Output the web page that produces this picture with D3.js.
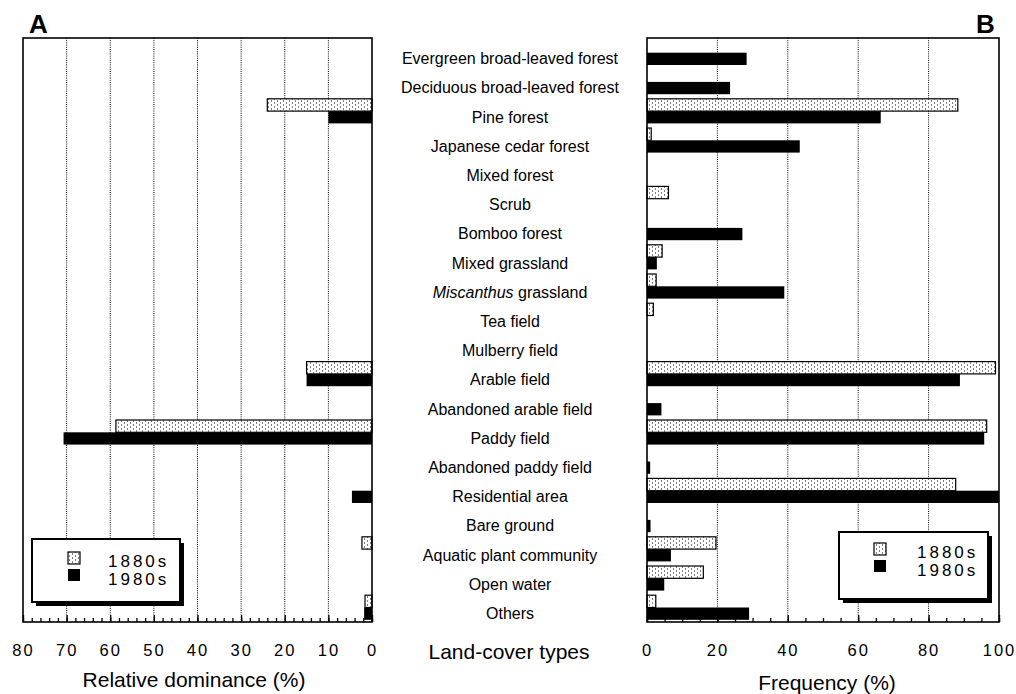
<!DOCTYPE html>
<html lang="en">
<head>
    <meta charset="UTF-8">
    <title>Land-cover types</title>
    <script src="https://d3js.org/d3.v7.min.js"></script>
    <style>
        body { margin: 0; background: white; }
        .frame { fill: none; stroke: black; stroke-width: 1.6; }
        .grid { stroke: black; stroke-width: 1; stroke-dasharray: 1,1.2; }
        .bar80 { fill: url(#stipple); stroke: black; stroke-width: 1.2; }
        .bar90 { fill: black; }
        .cat { font-family: "Liberation Sans", Arial, sans-serif; font-size: 16px; text-anchor: middle; }
        .title { font-family: "Liberation Sans", Arial, sans-serif; font-size: 21px; text-anchor: middle; }
        .panel { font-family: "Liberation Sans", Arial, sans-serif; font-size: 26px; font-weight: bold; }
        .leg { font-family: "Liberation Sans", Arial, sans-serif; font-size: 17px; letter-spacing: 3px; }
    </style>
</head>
<body>
<script>
    const width  = 1016;
    const height = 694;

    const categories = [
        "Evergreen broad-leaved forest", "Deciduous broad-leaved forest", "Pine forest",
        "Japanese cedar forest", "Mixed forest", "Scrub", "Bomboo forest", "Mixed grassland",
        "Miscanthus grassland", "Tea field", "Mulberry field", "Arable field",
        "Abandoned arable field", "Paddy field", "Abandoned paddy field", "Residential area",
        "Bare ground", "Aquatic plant community", "Open water", "Others"
    ];
    const series = ["1880s", "1980s"];

    // A: relative dominance (%)
    const dominance1880 = [0, 0, 24, 0, 0, 0, 0, 0, 0, 0, 0, 15, 0, 58.7, 0, 0, 0, 2.3, 0, 1.6];
    const dominance1980 = [0, 0, 10, 0, 0, 0, 0, 0, 0, 0, 0, 15, 0, 70.7, 0, 4.6, 0, 0, 0, 1.8];

    // B: frequency (%)
    const freq1880 = [0, 0, 88.3, 1.2, 0, 6.1, 0, 4.3, 2.6, 1.8, 0, 99, 0, 96.5, 0, 87.7, 0, 19.6, 16, 2.5];
    const freq1980 = [28.3, 23.6, 66.4, 43.4, 0, 0, 27.1, 2.8, 39, 0, 0, 88.9, 4.1, 95.8, 0.9, 100, 1, 6.8, 4.9, 29];

    const domTicks  = [80, 70, 60, 50, 40, 30, 20, 10, 0];
    const freqTicks = [0, 20, 40, 60, 80, 100];

    const yTop = 38, yBottom = 622;

    const svg = d3.select("body").append("svg").attr("width", width).attr("height", height);

    // stipple pattern for 1880s
    const pat = svg.append("defs").append("pattern")
            .attr("id", "stipple").attr("patternUnits", "userSpaceOnUse")
            .attr("width", 6).attr("height", 4);
    pat.append("rect").attr("width", 6).attr("height", 4).attr("fill", "white");
    pat.append("rect").attr("x", 1).attr("y", 0.5).attr("width", 1).attr("height", 1).attr("fill", "black");
    pat.append("rect").attr("x", 4).attr("y", 2.5).attr("width", 1).attr("height", 1).attr("fill", "black");

    const y = d3.scaleBand().domain(categories).range([yTop, yBottom]);
    const ySub = d3.scaleBand().domain(series).range([2.4, y.bandwidth() - 2.2]);

    const xA = d3.scaleLinear().domain([80, 0]).range([23, 372]);
    const xB = d3.scaleLinear().domain([0, 100]).range([647, 999]);

    function panel(x, v1880, v1980, grid, minor, major, title, titleX, titleY) {
        const g = svg.append("g");

        g.selectAll("line.grid").data(grid).enter().append("line").attr("class", "grid")
                .attr("x1", d => x(d)).attr("x2", d => x(d))
                .attr("y1", yTop).attr("y2", yBottom);

        const rows = categories.map((c, i) => ({c, a: v1880[i], b: v1980[i]}));
        const x0 = x(0);

        g.selectAll("rect.bar90").data(rows.filter(d => d.b > 0)).enter().append("rect")
                .attr("class", "bar90")
                .attr("x", d => Math.min(x0, x(d.b)))
                .attr("width", d => Math.abs(x(d.b) - x0))
                .attr("y", d => y(d.c) + ySub("1980s"))
                .attr("height", ySub.bandwidth());

        g.selectAll("rect.bar80").data(rows.filter(d => d.a > 0)).enter().append("rect")
                .attr("class", "bar80")
                .attr("x", d => Math.min(x0, x(d.a)))
                .attr("width", d => Math.abs(x(d.a) - x0))
                .attr("y", d => y(d.c) + ySub("1880s"))
                .attr("height", ySub.bandwidth());

        const [r0, r1] = x.range();
        g.append("rect").attr("class", "frame")
                .attr("x", Math.min(r0, r1)).attr("y", yTop)
                .attr("width", Math.abs(r1 - r0)).attr("height", yBottom - yTop);

        // minor ticks with labels
        g.append("g").attr("transform", `translate(0,${yBottom})`)
                .call(d3.axisBottom(x).tickValues(minor).tickSize(-4).tickPadding(22)
                        .tickFormat(d => major.includes(d) ? d : ""))
                .call(a => a.select(".domain").remove())
                .call(a => a.selectAll("line").attr("stroke-width", 1.3))
                .call(a => a.selectAll("text").attr("font-family", "'Liberation Sans', Arial, sans-serif")
                        .attr("font-size", 16.5).attr("letter-spacing", 2).attr("fill", "black"));

        // major ticks
        g.append("g").attr("transform", `translate(0,${yBottom})`)
                .call(d3.axisBottom(x).tickValues(major).tickSize(-7).tickFormat(""))
                .call(a => a.select(".domain").remove())
                .call(a => a.selectAll("line").attr("stroke-width", 1.3));

        svg.append("text").attr("class", "title")
                .attr("x", titleX).attr("y", titleY).text(title);
    }

    panel(xA, dominance1880, dominance1980,
            [10, 20, 30, 40, 50, 60, 70],
            d3.range(0, 81, 2), domTicks, "Relative dominance (%)", 194, 687);

    panel(xB, freq1880, freq1980,
            [20, 40, 60, 80],
            d3.range(0, 101, 5), freqTicks, "Frequency (%)", 827, 690);

    // category labels
    const cats = svg.append("g");
    categories.forEach(c => {
        const t = cats.append("text").attr("class", "cat")
                .attr("x", 510).attr("y", y(c) + y.bandwidth() / 2 + 11.5);
        if (c.startsWith("Miscanthus")) {
            t.append("tspan").attr("font-style", "italic").text("Miscanthus");
            t.append("tspan").text(" grassland");
        } else {
            t.text(c);
        }
    });
    svg.append("text").attr("class", "title").attr("font-size", 23)
            .attr("x", 509).attr("y", 659).text("Land-cover types");

    svg.append("text").attr("class", "panel").attr("x", 29).attr("y", 33).text("A");
    svg.append("text").attr("class", "panel").attr("x", 976).attr("y", 33).text("B");

    // legends
    function legend(x, yy, w, h, sx, tx, ty) {
        const g = svg.append("g").attr("transform", `translate(${x},${yy})`);
        g.append("rect").attr("x", 4).attr("y", 4).attr("width", w).attr("height", h).attr("fill", "black");
        g.append("rect").attr("width", w).attr("height", h)
                .attr("fill", "white").attr("stroke", "black").attr("stroke-width", 2);
        series.forEach((s, i) => {
            g.append("rect").attr("class", i === 0 ? "bar80" : "bar90")
                    .attr("x", sx).attr("y", ty - 15 + i * 17).attr("width", 12).attr("height", 12);
            g.append("text").attr("class", "leg")
                    .attr("x", tx).attr("y", ty + i * 18).text(s);
        });
    }
    legend(32, 539, 148, 63, 36, 76, 28);
    legend(839, 532, 149, 67, 35, 78, 26);
</script>
</body>
</html>
